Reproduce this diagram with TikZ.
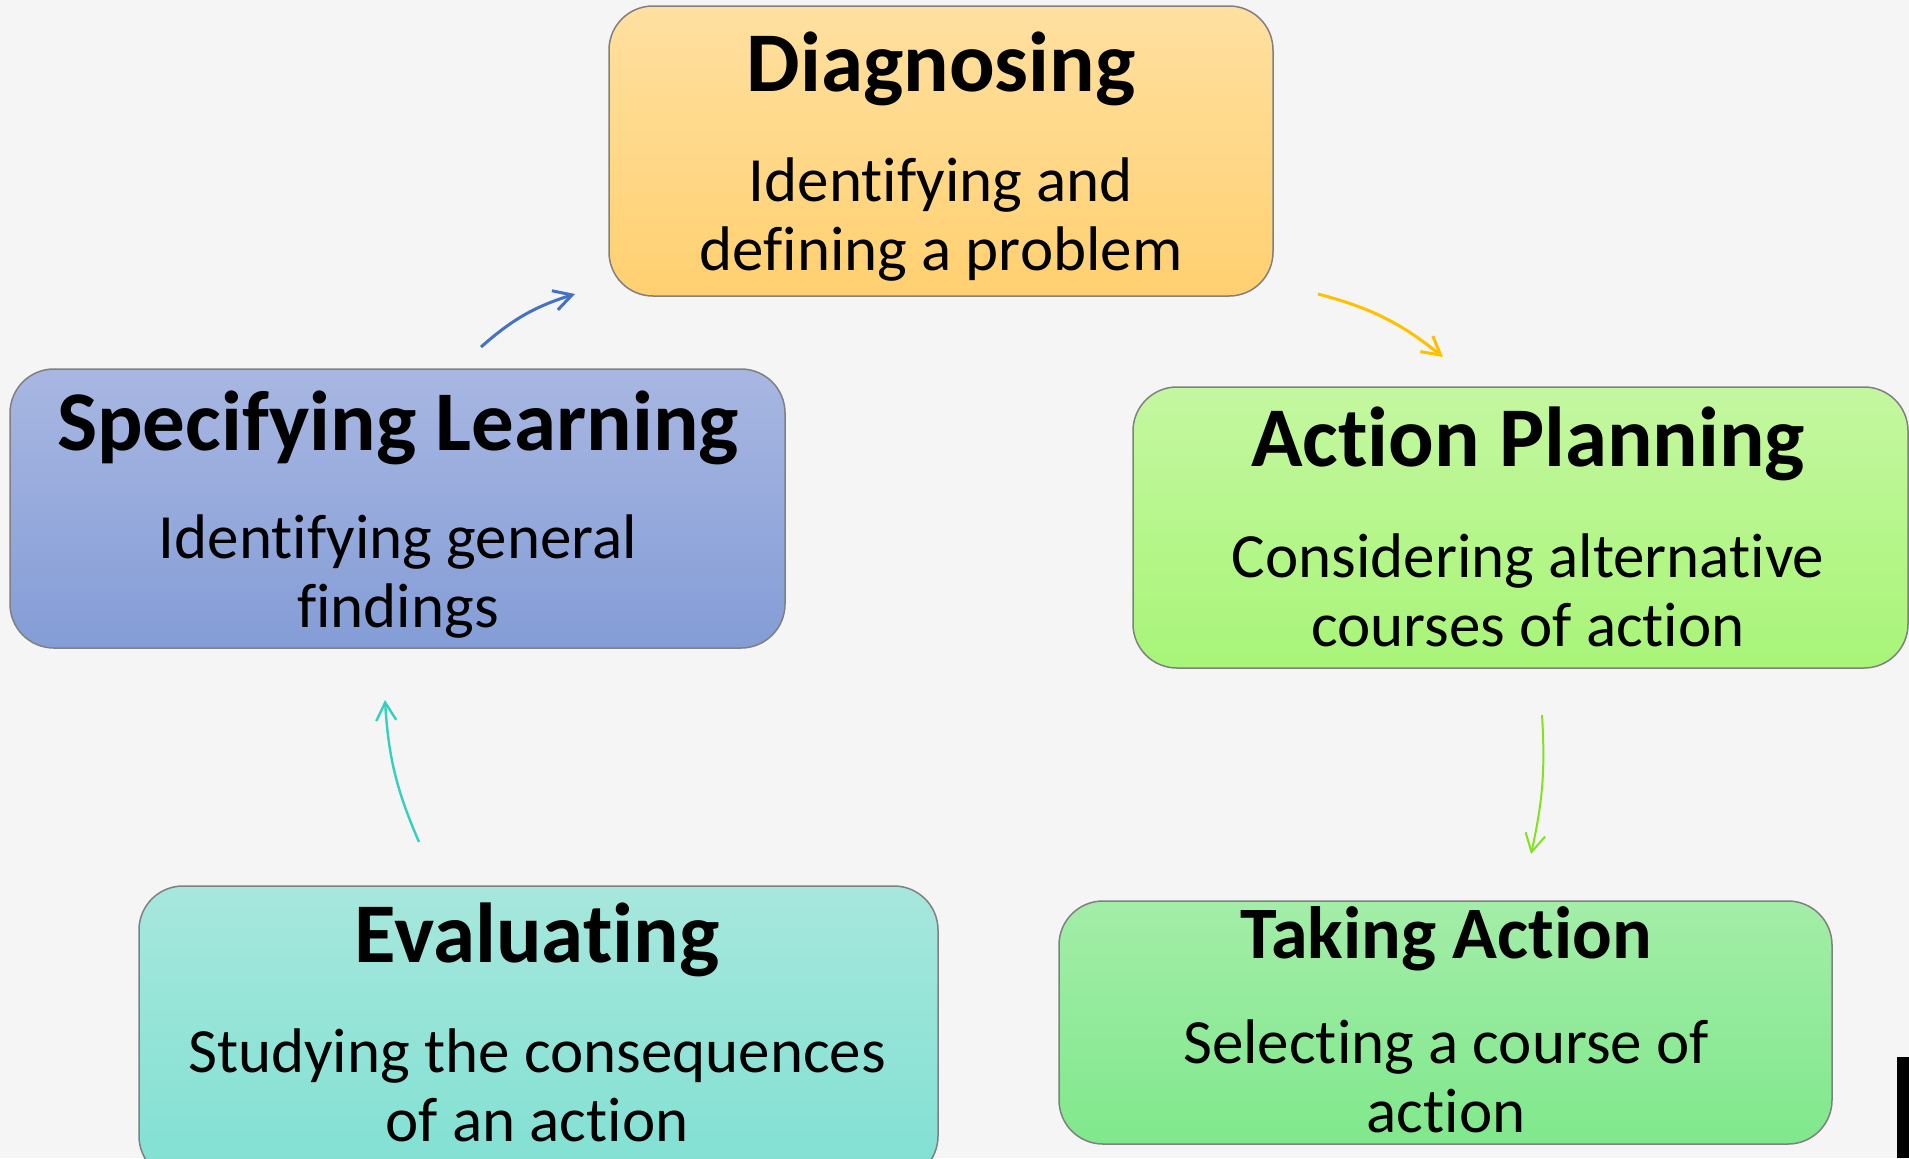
\documentclass[tikz,border=0pt]{standalone}
\usepackage{fontspec}
\setmainfont{Carlito}[Ligatures=NoCommon]
\usepackage{tikz}
\usetikzlibrary{arrows.meta,positioning}
\usepackage{xcolor}

\definecolor{bggray}{HTML}{F5F5F5}
\definecolor{diagtop}{RGB}{255,224,160}
\definecolor{diagbot}{RGB}{255,208,112}
\definecolor{spectop}{RGB}{168,183,226}
\definecolor{specbot}{RGB}{132,157,214}
\definecolor{plantop}{RGB}{196,247,160}
\definecolor{planbot}{RGB}{168,245,120}
\definecolor{acttop}{RGB}{163,237,168}
\definecolor{actbot}{RGB}{128,232,140}
\definecolor{evaltop}{RGB}{167,231,221}
\definecolor{evalbot}{RGB}{128,224,210}
\definecolor{flowblue}{RGB}{68,114,196}
\definecolor{flowyellow}{RGB}{255,192,0}
\definecolor{flowgreen}{RGB}{127,227,30}
\definecolor{flowteal}{RGB}{53,208,190}

\begin{document}
\begin{tikzpicture}[
    x=0.5pt, y=-0.5pt,
    stage/.style={rectangle, rounded corners=22pt, draw=black!50, line width=0.75pt, inner sep=0pt},
    heading/.style={anchor=base, font=\fontsize{42.5pt}{46pt}\selectfont\bfseries},
    detail/.style={anchor=base, align=center, font=\fontsize{31.5pt}{34.5pt}\selectfont},
    flow/.style={line width=1.5pt, -{Straight Barb[length=9pt,width=10pt]}}
]

\useasboundingbox (0,0) rectangle (1909,1158);
\clip (0,0) rectangle (1909,1158);
\fill[bggray] (0,0) rectangle (1909,1158);

% the five stages
\node[stage, top color=diagtop, bottom color=diagbot, minimum width=332pt, minimum height=145pt] (diag) at (941,151) {};
\node[stage, top color=spectop, bottom color=specbot, minimum width=387.5pt, minimum height=139.5pt] (spec) at (397.5,508.5) {};
\node[stage, top color=plantop, bottom color=planbot, minimum width=387.5pt, minimum height=140.5pt] (plan) at (1520.5,527.5) {};
\node[stage, top color=acttop, bottom color=actbot, minimum width=386.5pt, minimum height=121.5pt] (act) at (1445.5,1022.5) {};
\node[stage, top color=evaltop, bottom color=evalbot, minimum width=399.5pt, minimum height=147pt] (eval) at (538.5,1033) {};

% texts (detail nodes sit on the baseline of their last line)
\node[heading] (diagT) at (941,91) {Diagnosing};
\node[detail] (diagD) at (941,270) {Identifying and\\defining a problem};

\node[heading] (specT) at (398,450) {Specifying Learning};
\node[detail] (specD) at (398,627) {Identifying general\\findings};

\node[heading] (planT) at (1528,466) {Action Planning};
\node[detail] (planD) at (1528,646) {Considering alternative\\courses of action};

\node[heading, font=\fontsize{37pt}{40pt}\selectfont\bfseries] (actT) at (1446,958) {Taking Action};
\node[detail] (actD) at (1446,1132) {Selecting a course of\\action};

\node[heading] (evalT) at (537,962) {Evaluating};
\node[detail] (evalD) at (537,1141) {Studying the consequences\\of an action};

% arrows between the stages
\coordinate (b1) at (481,347);
\coordinate (b2) at (575,294);
\coordinate (y1) at (1318,294);
\coordinate (y2) at (1443,357);
\coordinate (g1) at (1542,715);
\coordinate (g2) at (1531,854);
\coordinate (t1) at (419,842);
\coordinate (t2) at (385,700);

\draw[flow, flowblue] (b1) to[bend left=12] (b2);
\draw[flow, flowyellow] (y1) to[bend left=12] (y2);
\draw[flow, flowgreen, line width=1pt] (g1) to[bend left=8] (g2);
\draw[flow, flowteal, line width=1.2pt] (t1) to[bend left=10] (t2);

\fill[black] (1897,1057) rectangle (1909,1158);

\end{tikzpicture}
\end{document}
